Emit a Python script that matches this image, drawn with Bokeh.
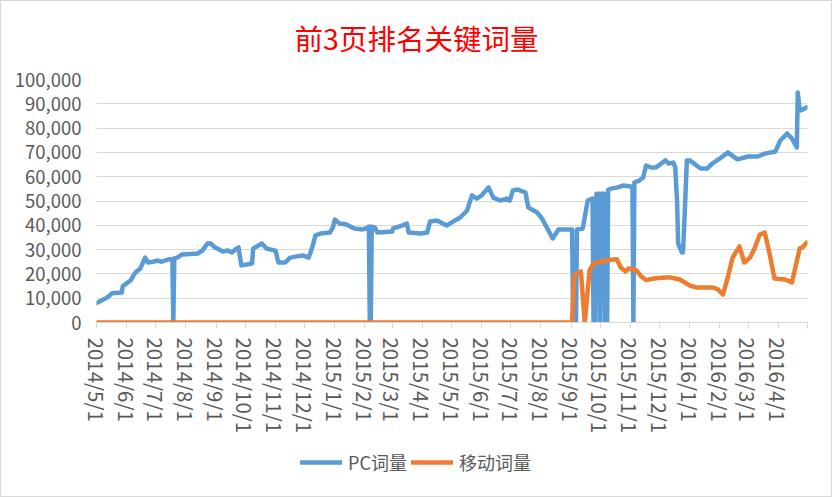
import pandas as pd
from bokeh.plotting import figure
from bokeh.layouts import column
from bokeh.models import (ColumnDataSource, FixedTicker, NumeralTickFormatter,
                          Legend, LegendItem, Range1d, Label)
from bokeh.embed import file_html
from bokeh.resources import INLINE

TITLE = "前3页排名关键词量"
SERIES_NAMES = ["PC词量", "移动词量"]

pc_dates = [
    "2014-05-01", "2014-05-12", "2014-05-17", "2014-05-27", "2014-05-28", "2014-06-05",
    "2014-06-10", "2014-06-15", "2014-06-20", "2014-06-23", "2014-06-28", "2014-07-03",
    "2014-07-07", "2014-07-14", "2014-07-18", "2014-07-19", "2014-07-20", "2014-07-23",
    "2014-07-28", "2014-08-13", "2014-08-18", "2014-08-23", "2014-08-26", "2014-08-31",
    "2014-09-08", "2014-09-13", "2014-09-17", "2014-09-22", "2014-09-24", "2014-09-27",
    "2014-10-08", "2014-10-09", "2014-10-18", "2014-10-23", "2014-11-01", "2014-11-04",
    "2014-11-11", "2014-11-16", "2014-11-23", "2014-11-29", "2014-12-05", "2014-12-07",
    "2014-12-10", "2014-12-12", "2014-12-17", "2014-12-27", "2014-12-30", "2015-01-01",
    "2015-01-06", "2015-01-13", "2015-01-21", "2015-01-30", "2015-02-04", "2015-02-05",
    "2015-02-06", "2015-02-07", "2015-02-08", "2015-02-11", "2015-02-14", "2015-03-01",
    "2015-03-02", "2015-03-11", "2015-03-16", "2015-03-18", "2015-03-30", "2015-04-06",
    "2015-04-09", "2015-04-16", "2015-04-26", "2015-05-03", "2015-05-10", "2015-05-17",
    "2015-05-22", "2015-05-27", "2015-06-01", "2015-06-08", "2015-06-13", "2015-06-20",
    "2015-06-27", "2015-06-30", "2015-07-03", "2015-07-08", "2015-07-16", "2015-07-19",
    "2015-07-28", "2015-08-02", "2015-08-13", "2015-08-19", "2015-09-02", "2015-09-03",
    "2015-09-06", "2015-09-07", "2015-09-13", "2015-09-18", "2015-09-23", "2015-09-24",
    "2015-09-26", "2015-09-27", "2015-09-30", "2015-10-01", "2015-10-02", "2015-10-05",
    "2015-10-06", "2015-10-08", "2015-10-09", "2015-10-12", "2015-10-19", "2015-10-25",
    "2015-11-01", "2015-11-03", "2015-11-04", "2015-11-05", "2015-11-10", "2015-11-14",
    "2015-11-17", "2015-11-22", "2015-11-27", "2015-11-30", "2015-12-07", "2015-12-10",
    "2015-12-15", "2015-12-17", "2015-12-19", "2015-12-20", "2015-12-24", "2015-12-25",
    "2015-12-27", "2015-12-29", "2016-01-01", "2016-01-12", "2016-01-19", "2016-01-24",
    "2016-02-01", "2016-02-09", "2016-02-19", "2016-03-01", "2016-03-11", "2016-03-18",
    "2016-03-29", "2016-04-03", "2016-04-10", "2016-04-15", "2016-04-20", "2016-04-21",
    "2016-04-23", "2016-04-28", "2016-04-30",
]
pc_values = [
    8000, 10300, 12000, 12300, 15000, 17300,
    20600, 22200, 26700, 24700, 25000, 25500,
    25000, 26000, 26000, 0, 26500, 26700,
    28000, 28400, 29600, 32500, 32600, 30900,
    29200, 29600, 28800, 30400, 30900, 23500,
    24300, 30400, 32500, 30400, 29600, 24700,
    24700, 26700, 27200, 27600, 26700, 28800,
    32500, 35800, 36600, 37000, 39100, 42400,
    40700, 40300, 38700, 38300, 39000, 39500,
    0, 0, 39500, 39100, 37000, 37400,
    38700, 39900, 40700, 37000, 36600, 37000,
    41600, 42000, 39900, 41600, 43200, 46100,
    52300, 51000, 52300, 55600, 51400, 50200,
    51000, 50200, 54300, 54700, 53500, 47300,
    45300, 42800, 34600, 38300, 38300, 0,
    0, 38300, 38700, 50200, 51000, 0,
    0, 53000, 53000, 0, 53000, 53000,
    0, 0, 54500, 55100, 55600, 56400,
    56000, 56000, 0, 57600, 58400, 59700,
    64600, 63800, 63800, 64600, 66700, 65400,
    65800, 64000, 49000, 32500, 28800, 28800,
    47300, 66700, 66700, 63400, 63400, 65400,
    67500, 70000, 67100, 68300, 68300, 69500,
    70400, 74900, 77800, 75700, 72000, 94700,
    87200, 88000, 88500,
]

mobile_dates = [
    "2014-05-01", "2015-09-02", "2015-09-04", "2015-09-11", "2015-09-15", "2015-09-20",
    "2015-09-24", "2015-10-01", "2015-10-12", "2015-10-18", "2015-10-22", "2015-10-27",
    "2015-10-30", "2015-11-07", "2015-11-12", "2015-11-17", "2015-11-27", "2015-12-07",
    "2015-12-12", "2015-12-22", "2016-01-01", "2016-01-08", "2016-01-25", "2016-01-30",
    "2016-02-04", "2016-02-09", "2016-02-14", "2016-02-21", "2016-02-26", "2016-03-03",
    "2016-03-08", "2016-03-13", "2016-03-18", "2016-03-23", "2016-03-28", "2016-04-08",
    "2016-04-15", "2016-04-23", "2016-04-26", "2016-04-30",
]
mobile_values = [
    0, 0, 19500, 21000, 0, 21500,
    24300, 25000, 25800, 26000, 22600, 21000,
    22200, 21500, 19000, 17500, 18200, 18500,
    18500, 17700, 15200, 14400, 14400, 13600,
    11500, 18500, 26700, 31300, 24700, 26700,
    30900, 36200, 37000, 28400, 18100, 17700,
    16500, 30500, 30900, 32900,
]

tick_dates = [
    "2014-05-01", "2014-06-01", "2014-07-01", "2014-08-01", "2014-09-01", "2014-10-01",
    "2014-11-01", "2014-12-01", "2015-01-01", "2015-02-01", "2015-03-01", "2015-04-01",
    "2015-05-01", "2015-06-01", "2015-07-01", "2015-08-01", "2015-09-01", "2015-10-01",
    "2015-11-01", "2015-12-01", "2016-01-01", "2016-02-01", "2016-03-01", "2016-04-01",
    "2016-05-01",
]
tick_labels = [
    "2014/5/1", "2014/6/1", "2014/7/1", "2014/8/1", "2014/9/1", "2014/10/1",
    "2014/11/1", "2014/12/1", "2015/1/1", "2015/2/1", "2015/3/1", "2015/4/1",
    "2015/5/1", "2015/6/1", "2015/7/1", "2015/8/1", "2015/9/1", "2015/10/1",
    "2015/11/1", "2015/12/1", "2016/1/1", "2016/2/1", "2016/3/1", "2016/4/1",
    "",
]
y_ticks = [0, 10000, 20000, 30000, 40000, 50000, 60000, 70000, 80000, 90000, 100000]

FONT = "Noto Sans CJK SC"
TEXT_COLOR = "#595959"
GRID_COLOR = "#D9D9D9"
PC_COLOR = "#5B9BD5"
MOBILE_COLOR = "#ED7D31"


def to_ms(s):
    return int(pd.Timestamp(s).value // 10**6)


pc_src = ColumnDataSource(dict(x=pd.to_datetime(pc_dates), y=pc_values))
mo_src = ColumnDataSource(dict(x=pd.to_datetime(mobile_dates), y=mobile_values))


def strip(height):
    f = figure(width=830, height=height, output_backend="svg", toolbar_location=None,
               x_range=Range1d(0, 1), y_range=Range1d(0, 1), min_border=0)
    f.axis.visible = False
    f.grid.visible = False
    f.outline_line_color = None
    f.border_fill_color = "white"
    f.background_fill_color = "white"
    return f


# ---------------- title strip ----------------
tt = strip(60)
tt.add_layout(Label(x=320, y=24, x_units="screen", y_units="screen", text=TITLE,
                    text_align="center", text_baseline="middle",
                    text_font=FONT, text_font_size="28.5px",
                    text_color="#FF0000"))

# ---------------- main chart ----------------
p = figure(width=830, height=380, x_axis_type="datetime", title=None,
           output_backend="svg", toolbar_location=None,
           x_range=Range1d(pd.Timestamp(tick_dates[0]), pd.Timestamp(tick_dates[-1])),
           y_range=Range1d(0, 100000),
           min_border_left=95, min_border_right=24,
           min_border_top=18, min_border_bottom=119)
p.outline_line_color = None
p.background_fill_color = "white"
p.border_fill_color = "white"

xa = p.xaxis[0]
xa.ticker = FixedTicker(ticks=[to_ms(d) for d in tick_dates])
xa.major_label_overrides = {to_ms(d): lab for d, lab in zip(tick_dates, tick_labels)}
xa.major_label_orientation = "vertical"
xa.major_label_text_font = FONT
xa.major_label_text_font_size = "20.5px"
xa.major_label_text_color = TEXT_COLOR
xa.axis_line_color = GRID_COLOR
xa.major_tick_line_color = GRID_COLOR
xa.major_tick_out = 6
xa.major_tick_in = 0
xa.minor_tick_line_color = None
xa.major_label_standoff = 9

ya = p.yaxis[0]
ya.ticker = FixedTicker(ticks=y_ticks)
ya.formatter = NumeralTickFormatter(format="0,0")
ya.major_label_text_font = FONT
ya.major_label_text_font_size = "18.5px"
ya.major_label_text_color = TEXT_COLOR
ya.axis_line_color = None
ya.major_tick_line_color = None
ya.minor_tick_line_color = None
ya.major_label_standoff = 9

p.xgrid.grid_line_color = None
p.ygrid.grid_line_color = GRID_COLOR
p.ygrid.ticker = FixedTicker(ticks=y_ticks)

p.line("x", "y", source=pc_src, line_width=4.5, line_color=PC_COLOR,
       line_join="round", line_cap="round")
p.line("x", "y", source=mo_src, line_width=4.5, line_color=MOBILE_COLOR,
       line_join="round", line_cap="round")

# ---------------- legend strip ----------------
lg = strip(55)
# key glyphs only (kept outside the visible range, the legend shows their style)
k1 = lg.line(x=[-5, -4], y=[-5, -4], line_width=4.5, line_color=PC_COLOR, line_cap="round")
k2 = lg.line(x=[-5, -4], y=[-5, -4], line_width=4.5, line_color=MOBILE_COLOR, line_cap="round")

legend = Legend(items=[LegendItem(label=SERIES_NAMES[0], renderers=[k1]),
                       LegendItem(label=SERIES_NAMES[1], renderers=[k2])],
                orientation="horizontal", location=(204, 21))
legend.border_line_color = None
legend.background_fill_alpha = 0
legend.padding = 0
legend.margin = 0
legend.spacing = 4
legend.label_standoff = 6
legend.glyph_width = 42
legend.glyph_height = 20
legend.label_height = 20
legend.label_text_font = FONT
legend.label_text_font_size = "18px"
legend.label_text_color = TEXT_COLOR
lg.add_layout(legend)

layout = column(tt, p, lg, spacing=0)
layout.styles = {"border": "1px solid #D9D9D9"}

open("out.html", "w").write(file_html(layout, INLINE))
